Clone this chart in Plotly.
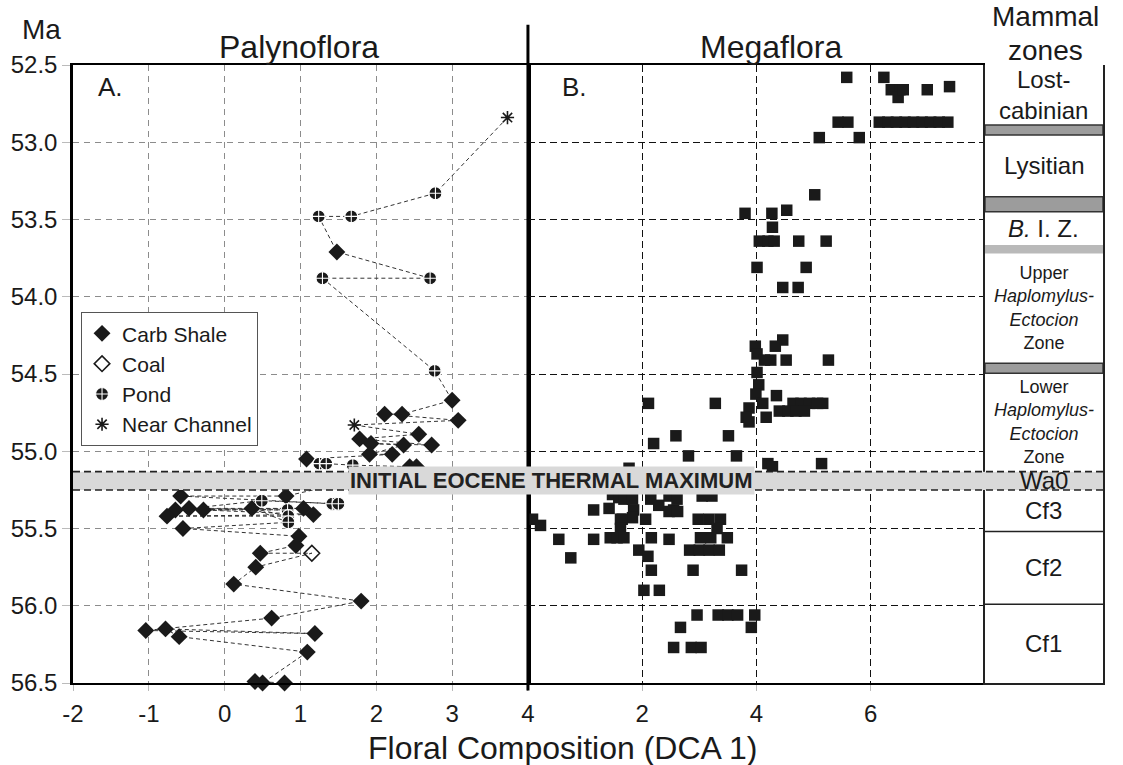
import plotly.graph_objects as go

# ---------------- Palynoflora (panel A), samples in stratigraphic sequence ----------------
paly_age = [52.84, 53.33, 53.48, 53.48, 53.71, 53.88, 53.88, 54.48, 54.67, 54.76,
            54.76, 54.80, 54.83, 54.89, 54.92, 54.96, 54.95, 54.96, 55.02, 55.02,
            55.05, 55.08, 55.08, 55.09, 55.10, 55.10,
            55.29, 55.29, 55.34, 55.34, 55.32, 55.38, 55.37, 55.37, 55.38, 55.38,
            55.41, 55.42, 55.42, 55.37, 55.46, 55.50, 55.55, 55.61, 55.66, 55.66,
            55.75, 55.86, 55.97, 56.08, 56.16, 56.18, 56.15, 56.20, 56.30, 56.50,
            56.49, 56.50]
paly_dca = [3.73, 2.78, 1.67, 1.24, 1.48, 2.71, 1.29, 2.77, 3.00, 2.34,
            2.11, 3.08, 1.71, 2.56, 1.78, 2.73, 1.93, 2.36, 1.91, 2.21,
            1.08, 1.25, 1.34, 1.69, 2.44, 2.53,
            0.81, -0.58, 1.42, 1.50, 0.49, -0.65, 1.04, -0.47, 0.83, -0.28,
            1.17, -0.76, 0.84, 0.36, 0.84, -0.55, 0.98, 0.94, 0.47, 1.15,
            0.41, 0.12, 1.80, 0.62, -1.04, 1.19, -0.78, -0.60, 1.09, 0.50,
            0.40, 0.79]
paly_lith = ["Near Channel", "Pond", "Pond", "Pond", "Carb Shale", "Pond", "Pond", "Pond",
             "Carb Shale", "Carb Shale", "Carb Shale", "Carb Shale", "Near Channel",
             "Carb Shale", "Carb Shale", "Carb Shale", "Carb Shale", "Carb Shale",
             "Carb Shale", "Carb Shale", "Carb Shale", "Pond", "Pond", "Pond",
             "Carb Shale", "Carb Shale",
             "Carb Shale", "Carb Shale", "Pond", "Pond", "Pond", "Carb Shale", "Carb Shale",
             "Carb Shale", "Pond", "Carb Shale", "Carb Shale", "Carb Shale", "Pond",
             "Carb Shale", "Pond", "Carb Shale", "Carb Shale", "Carb Shale", "Carb Shale",
             "Coal", "Carb Shale", "Carb Shale", "Carb Shale", "Carb Shale", "Carb Shale",
             "Carb Shale", "Carb Shale", "Carb Shale", "Carb Shale", "Carb Shale",
             "Carb Shale", "Carb Shale"]
lith_order = ["Carb Shale", "Coal", "Pond", "Near Channel"]

# ---------------- Megaflora (panel B) ----------------
mega_age = [52.58, 52.58, 52.66, 52.66, 52.71, 52.66, 52.66, 52.64,
            52.87, 52.87, 52.87, 52.87, 52.87, 52.87, 52.87, 52.87, 52.87, 52.87, 52.87,
            52.97, 52.97,
            53.34, 53.46, 53.46, 53.44, 53.55, 53.64, 53.64, 53.64, 53.64, 53.64,
            53.81, 53.81, 53.94, 53.94,
            54.28, 54.32, 54.32, 54.37, 54.41, 54.41, 54.41, 54.41, 54.49, 54.57,
            54.63, 54.64, 54.69, 54.69, 54.69, 54.69, 54.69, 54.69, 54.69, 54.69,
            54.72, 54.78, 54.81, 54.78, 54.74, 54.74, 54.74, 54.74,
            54.95, 54.90, 54.90, 55.03, 55.03, 55.11, 55.08, 55.10, 55.08,
            55.28, 55.30, 55.31, 55.31, 55.31, 55.35, 55.29, 55.31, 55.29, 55.29,
            55.38, 55.37, 55.38, 55.38, 55.39, 55.39, 55.44, 55.43, 55.44, 55.44,
            55.44, 55.44, 55.44, 55.48, 55.44, 55.50, 55.50,
            55.57, 55.57, 55.56, 55.56, 55.56, 55.56, 55.57, 55.56, 55.56, 55.56,
            55.64, 55.68, 55.64, 55.64, 55.64, 55.64, 55.69,
            55.77, 55.77, 55.77, 55.90, 55.90,
            56.06, 56.06, 56.06, 56.06, 56.06, 56.14, 56.14, 56.27, 56.27, 56.27]
mega_dca = [5.58, 6.23, 6.36, 6.51, 6.48, 6.57, 6.99, 7.38,
            5.43, 5.60, 6.15, 6.30, 6.45, 6.60, 6.75, 6.90, 7.05, 7.20, 7.35,
            5.10, 5.80,
            5.02, 3.80, 4.27, 4.53, 4.28, 4.05, 4.20, 4.31, 4.74, 5.22,
            4.01, 4.87, 4.46, 4.73,
            4.46, 4.33, 3.98, 4.01, 4.14, 4.25, 4.52, 5.26, 4.01, 4.04,
            3.99, 4.35, 2.11, 3.28, 4.64, 4.78, 4.93, 5.07, 5.16, 4.11,
            3.87, 3.82, 3.87, 4.17, 4.40, 4.55, 4.69, 4.84,
            2.20, 2.59, 3.51, 2.81, 3.65, 1.77, 4.20, 4.28, 5.14,
            1.48, 1.59, 1.68, 1.83, 2.15, 2.29, 2.47, 2.61, 3.05, 3.22,
            1.15, 1.42, 1.85, 2.55, 2.47, 2.62, 1.62, 1.83, 2.06, 1.65,
            2.98, 3.17, 3.37, 0.22, 0.08, 3.31, 1.62,
            0.54, 1.15, 1.44, 1.56, 1.68, 2.16, 2.47, 3.02, 3.20, 3.49,
            1.94, 2.10, 2.83, 3.00, 3.17, 3.35, 0.75,
            2.16, 2.89, 3.74, 2.03, 2.30,
            2.96, 3.33, 3.50, 3.67, 3.97, 2.67, 3.91, 2.55, 2.86, 3.03]

# ---------------- Mammal zones ----------------
zone_names = ["Lost-<br>cabinian", "Lysitian", "<i>B.</i> I. Z.",
              "Upper<br><i>Haplomylus-</i><br><i>Ectocion</i><br>Zone",
              "Lower<br><i>Haplomylus-</i><br><i>Ectocion</i><br>Zone",
              "Wa0", "Cf3", "Cf2", "Cf1"]
zone_top = [52.50, 52.953, 53.45, 53.72, 54.495, 55.132, 55.251, 55.52, 55.99]
zone_base = [52.888, 53.352, 53.665, 54.43, 55.132, 55.251, 55.52, 55.99, 56.50]
gap_top = [52.888, 53.352, 53.665, 54.43]
gap_base = [52.953, 53.45, 53.72, 54.495]
ietm_top, ietm_base = 55.132, 55.251

age_ticks = [52.5, 53.0, 53.5, 54.0, 54.5, 55.0, 55.5, 56.0, 56.5]
paly_ticks = [-2, -1, 0, 1, 2, 3, 4]
mega_ticks = [2, 4, 6]

FONT = "Liberation Sans, Arial, Helvetica, sans-serif"
INK = "#1a1a1a"
BAND = "#d9d9d9"

# panel boundaries in paper units
XA_END = 0.4417
XB_END = 0.8854

fig = go.Figure()

# dashed line joining the palynoflora samples
fig.add_trace(go.Scatter(
    x=paly_dca, y=paly_age, mode="lines", xaxis="x", yaxis="y",
    line=dict(color="#333333", width=1, dash="4px,3px"),
    showlegend=False, hoverinfo="skip", cliponaxis=False))

marker_styles = {
    "Carb Shale": dict(symbol="diamond", size=13, color=INK, line=dict(width=0)),
    "Coal": dict(symbol="diamond-open", size=12, color=INK, line=dict(width=1.6, color=INK)),
    "Pond": dict(symbol="circle-cross", size=13, color=INK, line=dict(width=1.1, color="white")),
    "Near Channel": dict(symbol="asterisk-open", size=11, color=INK, line=dict(width=1.6, color=INK)),
}
for lith in lith_order:
    xs = [d for d, l in zip(paly_dca, paly_lith) if l == lith]
    ys = [a for a, l in zip(paly_age, paly_lith) if l == lith]
    fig.add_trace(go.Scatter(
        x=xs, y=ys, mode="markers", name=lith, xaxis="x", yaxis="y",
        marker=marker_styles[lith], cliponaxis=False))

fig.add_trace(go.Scatter(
    x=mega_dca, y=mega_age, mode="markers", xaxis="x2", yaxis="y2",
    marker=dict(symbol="square", size=11.5, color=INK, line=dict(width=0)),
    showlegend=False))

grid_gray = dict(showgrid=True, gridcolor="#8c8c8c", griddash="6px,5px", gridwidth=1)
grid_black = dict(showgrid=True, gridcolor="#111111", griddash="7px,4px", gridwidth=1.3)
tick_font = dict(family=FONT, size=24, color=INK)

fig.update_layout(
    width=1123, height=765,
    margin=dict(l=73, r=20, t=65, b=82),
    paper_bgcolor="white", plot_bgcolor="white",
    font=dict(family=FONT, color=INK),
    xaxis=dict(domain=[0, XA_END], range=[-2, 4], tickvals=paly_ticks,
               ticktext=[str(v) for v in paly_ticks], anchor="y",
               showline=True, mirror=True, linecolor="black", linewidth=2,
               ticks="outside", ticklen=6, tickcolor="#bbbbbb", tickfont=tick_font,
               ticklabelstandoff=2, zeroline=False, **grid_gray),
    yaxis=dict(domain=[0, 1], range=[56.5, 52.5], tickvals=age_ticks,
               ticktext=[f"{v:.1f}" for v in age_ticks],
               anchor="x", showline=True, mirror=True, linecolor="black", linewidth=2.5,
               ticks="outside", ticklen=8, tickcolor="#bbbbbb", tickfont=tick_font,
               zeroline=False, **grid_gray),
    xaxis2=dict(domain=[XA_END, XB_END], range=[0, 8], tickvals=mega_ticks,
                ticktext=[str(v) for v in mega_ticks], anchor="y2",
                showline=True, mirror=True, linecolor="black", linewidth=2,
                ticks="outside", ticklen=6, tickcolor="#bbbbbb", tickfont=tick_font,
                ticklabelstandoff=2, zeroline=False, **grid_black),
    yaxis2=dict(domain=[0, 1], range=[56.5, 52.5], tickvals=age_ticks[1:-1], anchor="x2",
                showticklabels=False, showline=False, zeroline=False, **grid_black),
    xaxis3=dict(domain=[XB_END, 1], range=[0, 1], anchor="y3", showgrid=False,
                showticklabels=False, showline=True, linecolor="#222", linewidth=1.5,
                zeroline=False, ticks=""),
    yaxis3=dict(domain=[0, 1], range=[56.5, 52.5], anchor="x3", showgrid=False,
                showticklabels=False, showline=True, mirror=True, linecolor="#222",
                linewidth=1.5, zeroline=False, ticks=""),
    legend=dict(x=0.0078, y=0.600, xanchor="left", yanchor="top",
                bgcolor="white", bordercolor="#555555", borderwidth=1,
                font=dict(family=FONT, size=21, color=INK), tracegroupgap=0),
)

shapes = []
# thick divider between the two floral panels
shapes.append(dict(type="line", xref="paper", yref="paper", x0=XA_END, x1=XA_END,
                   y0=-0.012, y1=1.065, line=dict(color="black", width=3), layer="above"))
# gaps between mammal zones
for top, base in zip(gap_top, gap_base):
    narrow = (base - top) < 0.06
    shapes.append(dict(type="rect", xref="x3", yref="y3", x0=0, x1=1, y0=top, y1=base,
                       fillcolor="#b9b9b9" if narrow else "#9c9c9c",
                       line=dict(width=0 if narrow else 1.5, color="#333333"),
                       layer="above"))
# solid zone boundaries inside the Clarkforkian
for top in zone_top:
    if top > ietm_base + 0.01:
        shapes.append(dict(type="line", xref="x3", yref="y3", x0=0, x1=1, y0=top, y1=top,
                           line=dict(color="#222", width=1.5), layer="above"))
# Initial Eocene Thermal Maximum band across every panel
shapes.append(dict(type="rect", xref="paper", yref="y", x0=0, x1=1,
                   y0=ietm_top, y1=ietm_base, fillcolor=BAND,
                   line=dict(width=0), layer="above"))
for edge in (ietm_top, ietm_base):
    shapes.append(dict(type="line", xref="paper", yref="y", x0=0, x1=1, y0=edge, y1=edge,
                       line=dict(color="#222", width=1.6, dash="7px,4px"), layer="above"))
fig.update_layout(shapes=shapes)


def label(text, x, y, size, xref="paper", yref="paper", bg=None, **kw):
    out = dict(text=text, xref=xref, yref=yref, x=x, y=y, showarrow=False,
               xanchor="center", yanchor="middle", font=dict(size=size, **kw))
    if bg:
        out.update(bgcolor=bg, borderpad=1)
    return out


ann = [
    label("Ma", -0.031, 1.057, 28),
    label("Palynoflora", 0.219, 1.029, 32),
    label("Megaflora", 0.678, 1.029, 32),
    label("Mammal", 0.944, 1.078, 28),
    label("zones", 0.944, 1.024, 28),
    label("A.", -1.50, 52.64, 26, xref="x", yref="y"),
    label("B.", 0.82, 52.64, 26, xref="x2", yref="y2"),
    label("<b>INITIAL EOCENE THERMAL MAXIMUM</b>", 0.465, (ietm_top + ietm_base) / 2,
          22, yref="y", bg=BAND, color="#222"),
    label("Floral Composition (DCA 1)", 0.475, -0.105, 32),
]
for name, top, base in zip(zone_names, zone_top, zone_base):
    small = name.count("<br>") > 1
    ann.append(label(name, 0.5, (top + base) / 2, 18 if small else 24,
                     xref="x3", yref="y3"))
fig.update_layout(annotations=ann)

fig.write_html("out.html")
